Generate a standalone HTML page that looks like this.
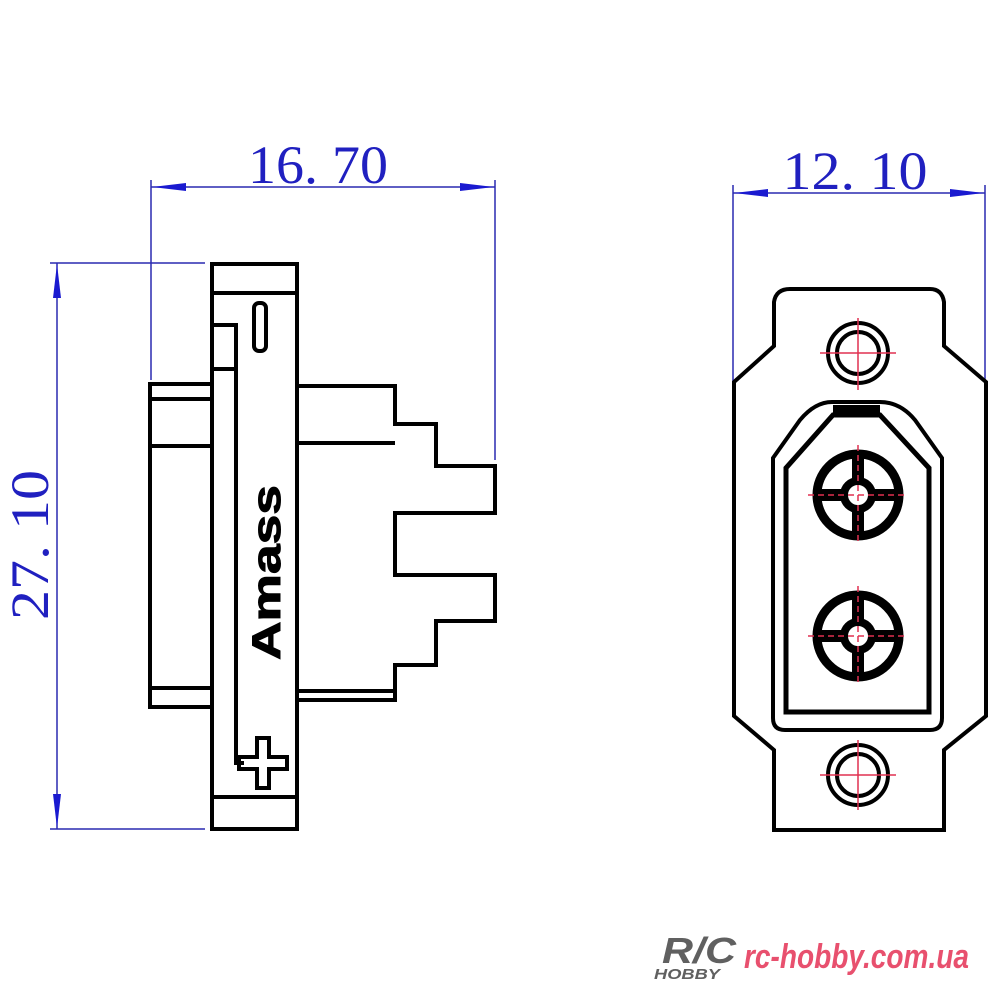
<!DOCTYPE html>
<html><head><meta charset="utf-8"><style>html,body{margin:0;padding:0;background:#fff}svg{display:block}</style></head>
<body>
<svg width="1000" height="1000" viewBox="0 0 1000 1000" xmlns="http://www.w3.org/2000/svg">
<rect width="1000" height="1000" fill="#fff"/>
<!-- dimensions -->
<g stroke="#2a2ab0" stroke-width="1.5" fill="none">
  <line x1="151" y1="180" x2="151" y2="380"/>
  <line x1="495" y1="180" x2="495" y2="460"/>
  <line x1="151" y1="187" x2="495" y2="187"/>
  <line x1="50" y1="263" x2="205" y2="263"/>
  <line x1="50" y1="829" x2="205" y2="829"/>
  <line x1="57" y1="263" x2="57" y2="829"/>
  <line x1="733" y1="185" x2="733" y2="385"/>
  <line x1="985" y1="185" x2="985" y2="380"/>
  <line x1="733" y1="193" x2="985" y2="193"/>
</g>
<g fill="#1a1ad0">
  <polygon points="152,187 186,183 186,191"/>
  <polygon points="494,187 460,183 460,191"/>
  <polygon points="57,264 53,298 61,298"/>
  <polygon points="57,828 53,794 61,794"/>
  <polygon points="734,193 768,189 768,197"/>
  <polygon points="984,193 950,189 950,197"/>
</g>
<g fill="#2020c0" font-family="Liberation Serif, serif" font-size="54">
  <text x="318" y="183" text-anchor="middle" textLength="140" lengthAdjust="spacingAndGlyphs">16. 70</text>
  <text x="855" y="189" text-anchor="middle" textLength="145" lengthAdjust="spacingAndGlyphs">12. 10</text>
  <text transform="translate(48,545) rotate(-90)" text-anchor="middle" textLength="150" lengthAdjust="spacingAndGlyphs">27. 10</text>
</g>
<!-- left view -->
<g stroke="#000" stroke-width="4" fill="none" stroke-linejoin="miter">
  <rect x="212" y="264" width="85" height="565"/>
  <line x1="214" y1="293" x2="295" y2="293"/>
  <line x1="214" y1="797" x2="295" y2="797"/>
  <polyline points="214,325 236,325 236,763 244,763"/>
  <line x1="214" y1="369" x2="236" y2="369"/>
  <rect x="150" y="384" width="62" height="323"/>
  <line x1="152" y1="399" x2="212" y2="399"/>
  <line x1="152" y1="446" x2="212" y2="446"/>
  <line x1="152" y1="688" x2="212" y2="688"/>
  <polyline points="297,386 395,386 395,424 436,424 436,466 495,466 495,513 395,513 395,575 495,575 495,621 436,621 436,665 395,665 395,700 297,700"/>
  <line x1="297" y1="443" x2="395" y2="443"/>
  <line x1="297" y1="691" x2="395" y2="691"/>
  <rect x="254" y="303" width="12" height="48" rx="5"/>
  <path d="M257,738 h12 v19 h18 v12 h-18 v19 h-12 v-19 h-18 v-12 h18 z"/>
</g>
<text transform="translate(280,660) rotate(-90)" font-family="Liberation Sans, sans-serif" font-weight="bold" font-size="40" fill="#000" stroke="#000" stroke-width="1" textLength="175" lengthAdjust="spacingAndGlyphs">Amass</text>
<!-- right view -->
<g stroke="#000" stroke-width="4" fill="none">
  <path d="M790,289 H930 Q942,289 944,302 V346 L986,382 V716 L944,750 V830 H774 V750 L734,716 V382 L774,346 V302 Q776,289 790,289 Z"/>
  <path d="M832,402 H880 Q900,402 915,420 L942,458 V718 Q942,730 930,730 H785 Q773,730 773,718 V458 L800,420 Q815,402 832,402 Z"/>
  <path d="M833,415 H880 L929,468 V712 H786 V468 Z" stroke-width="5"/>
  <circle cx="858" cy="353" r="30"/>
  <circle cx="858" cy="353" r="21"/>
  <circle cx="858" cy="775" r="30"/>
  <circle cx="858" cy="775" r="21"/>
</g>
<path d="M833,410 H880" stroke="#000" stroke-width="10"/>
<g stroke="#000" fill="none">
  <circle cx="858" cy="495" r="41" stroke-width="9"/>
  <circle cx="858" cy="636" r="41" stroke-width="9"/>
  <circle cx="858" cy="495" r="14" stroke-width="8"/>
  <circle cx="858" cy="636" r="14" stroke-width="8"/>
  <path d="M858,455 V481 M858,509 V535 M818,495 H844 M872,495 H898" stroke-width="12"/>
  <path d="M858,596 V622 M858,650 V676 M818,636 H844 M872,636 H898" stroke-width="12"/>
</g>
<g stroke="#e03050" stroke-width="1.5">
  <path d="M858,318 V390 M820,353 H896 M858,740 V810 M820,775 H896"/>
  <path d="M858,445 V545 M808,495 H908 M858,586 V686 M808,636 H908" stroke-dasharray="6,4"/>
</g>
<!-- watermark -->
<text x="662" y="963" font-family="Liberation Sans, sans-serif" font-weight="bold" font-style="italic" font-size="36" fill="#606060" textLength="74" lengthAdjust="spacingAndGlyphs">R/C</text>
<text x="654" y="979" font-family="Liberation Sans, sans-serif" font-weight="bold" font-style="italic" font-size="15" fill="#606060" textLength="66" lengthAdjust="spacingAndGlyphs">HOBBY</text>
<text x="744" y="968" font-family="Liberation Sans, sans-serif" font-weight="bold" font-style="italic" font-size="34" fill="#e8506e" textLength="225" lengthAdjust="spacingAndGlyphs">rc-hobby.com.ua</text>
</svg>
</body></html>
